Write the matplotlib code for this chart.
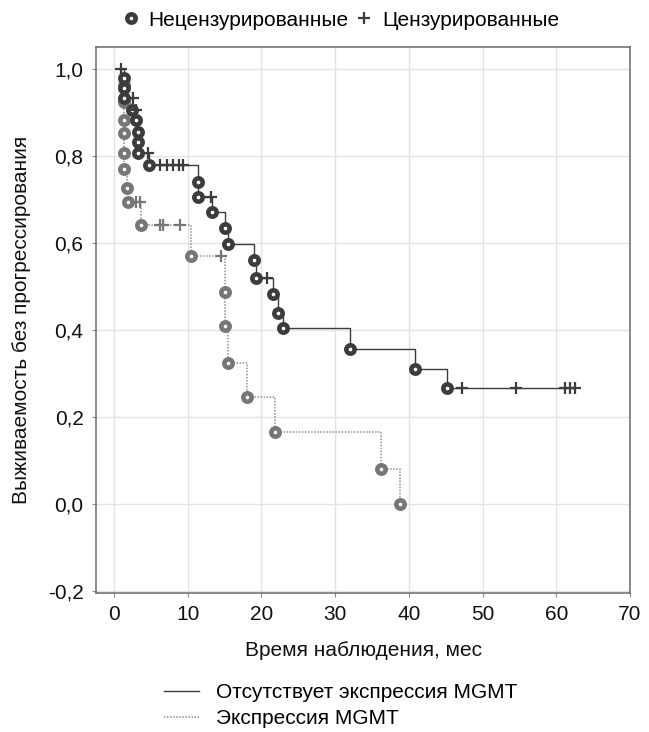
import matplotlib
matplotlib.use("Agg")
import matplotlib.pyplot as plt
from matplotlib.lines import Line2D

plt.rcParams["font.family"] = ["Liberation Sans", "DejaVu Sans"]

# group 1: no MGMT expression (solid dark)
g1_start = 0.9
g1_event_t = [1.4, 1.4, 1.4, 2.4, 3.0, 3.3, 3.3, 3.3, 4.8, 11.4, 11.4, 13.3,
              15.0, 15.4, 19.0, 19.3, 21.5, 22.3, 22.9, 32.0, 40.8, 45.2]
g1_event_s = [0.978, 0.956, 0.933, 0.906, 0.883, 0.856, 0.833, 0.806, 0.778,
              0.741, 0.705, 0.670, 0.634, 0.598, 0.561, 0.519, 0.482, 0.438,
              0.404, 0.356, 0.310, 0.266]
g1_cens_t = [0.9, 2.6, 3.0, 4.6, 6.3, 7.2, 8.0, 8.8, 9.4, 13.1, 20.7,
             47.2, 54.5, 61.2, 61.9, 62.5]
g1_cens_s = [1.0, 0.933, 0.906, 0.806, 0.778, 0.778, 0.778, 0.778, 0.778,
             0.705, 0.519, 0.266, 0.266, 0.266, 0.266, 0.266]

# group 2: MGMT expression (dotted grey)
g2_start = 0.9
g2_event_t = [1.3, 1.3, 1.3, 1.3, 1.3, 1.3, 1.7, 1.9, 3.7, 10.4, 15.0, 15.0,
              15.4, 18.0, 21.8, 36.2, 38.8]
g2_event_s = [0.963, 0.925, 0.883, 0.852, 0.806, 0.769, 0.726, 0.693, 0.641,
              0.569, 0.488, 0.410, 0.323, 0.245, 0.166, 0.080, 0.0]
g2_cens_t = [3.0, 3.5, 6.2, 6.6, 9.0, 14.5]
g2_cens_s = [0.693, 0.693, 0.641, 0.641, 0.641, 0.569]

x_ticks = [0, 10, 20, 30, 40, 50, 60, 70]
y_ticks = [-0.2, 0.0, 0.2, 0.4, 0.6, 0.8, 1.0]
y_tick_labels = ["-0,2", "0,0", "0,2", "0,4", "0,6", "0,8", "1,0"]

C1 = "#3c3c3c"
C2 = "#767676"
L2 = "#8f8f8f"
FS = 15

fig = plt.figure(figsize=(6.49, 7.32), dpi=100)
ax = fig.add_axes([96 / 649, 1 - 593 / 732, (630 - 96) / 649, (593 - 46.7) / 732])

# step curves
t1 = [g1_start] + g1_event_t + [g1_cens_t[-1]]
s1 = [1.0] + g1_event_s + [g1_event_s[-1]]
ax.step(t1, s1, where="post", color=C1, lw=1.0, zorder=3)
t2 = [g2_start] + g2_event_t
s2 = [1.0] + g2_event_s
ax.step(t2, s2, where="post", color=L2, lw=1.1, ls=(0, (1, 1)), zorder=2)

ring = dict(ls="none", marker="o", ms=6.0, mew=3.3, mfc="white")
ax.plot(g2_event_t, g2_event_s, mec=C2, zorder=4, **ring)
ax.plot(g1_event_t, g1_event_s, mec=C1, zorder=5, **ring)
ax.plot(g2_cens_t, g2_cens_s, ls="none", marker="+", ms=8, mew=1.6,
        color=C2, zorder=4)
ax.plot(g1_cens_t, g1_cens_s, ls="none", marker="+", ms=8, mew=1.6,
        color=C1, zorder=5)

ax.set_xlim(-2.45, 70)
ax.set_ylim(-0.205, 1.051)
ax.set_xticks(x_ticks)
ax.set_yticks(y_ticks)
ax.set_yticklabels(y_tick_labels)
ax.tick_params(labelsize=FS, length=3, color="#888888", labelcolor="#111111")
ax.tick_params(axis="y", pad=6)
ax.tick_params(axis="x", pad=6)
ax.grid(True, color="#e3e3e3", lw=1.0)
ax.set_axisbelow(True)
for sp in ax.spines.values():
    sp.set_color("#6a6a6a")
    sp.set_linewidth(1.1)

ax.set_xlabel("Время наблюдения, мес", fontsize=FS, color="#111111", labelpad=12)
ax.set_ylabel("Выживаемость без прогрессирования", fontsize=FS,
              color="#111111", labelpad=12)

# top legend
top_handles = [
    Line2D([], [], ls="none", marker="o", ms=6.0, mew=3.3, mfc="white", mec=C1),
    Line2D([], [], ls="none", marker="+", ms=8, mew=1.6, color=C1),
]
fig.legend(top_handles, ["Нецензурированные", "Цензурированные"],
           loc="center", bbox_to_anchor=(0.525, 1 - 20 / 732), ncol=2,
           frameon=False, fontsize=FS, handlelength=0.8, handletextpad=0.45,
           columnspacing=0.35, borderpad=0)

# bottom legend
bottom_handles = [
    Line2D([], [], color=C1, lw=1.0),
    Line2D([], [], color=L2, lw=1.1, ls=(0, (1, 1))),
]
fig.legend(bottom_handles, ["Отсутствует экспрессия MGMT", "Экспрессия MGMT"],
           loc="upper left", bbox_to_anchor=(164 / 649, 1 - 683 / 732),
           frameon=False, fontsize=FS, handlelength=1.7, handletextpad=0.8,
           labelspacing=0.35, borderpad=0, borderaxespad=0)

fig.savefig("out.png", dpi=100)
